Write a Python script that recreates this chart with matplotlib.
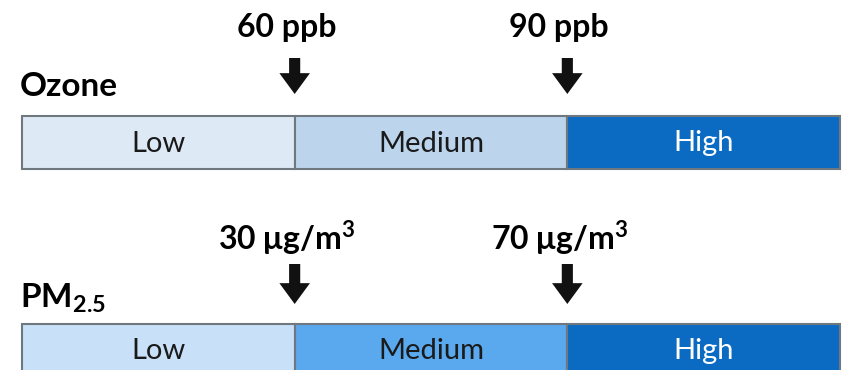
import matplotlib.pyplot as plt

# categories and cut-off values
levels = ["Low", "Medium", "High"]
ozone_cuts = ["60 ppb", "90 ppb"]
pm_cuts = ["30 \u03bcg/m$^{\\mathbf{3}}$", "70 \u03bcg/m$^{\\mathbf{3}}$"]
ozone_colors = ["#dde9f5", "#bcd5ed", "#0b6bc2"]
pm_colors = ["#c8e0f8", "#5aa8ee", "#0b6bc2"]
text_colors = ["#1a1a1a", "#1a1a1a", "#ffffff"]

plt.rcParams['font.family'] = ['Lato', 'DejaVu Sans']
plt.rcParams['mathtext.fontset'] = 'custom'
plt.rcParams['mathtext.rm'] = 'Lato:bold'
plt.rcParams['mathtext.bf'] = 'Lato:bold'

fig = plt.figure(figsize=(8.46, 3.70), dpi=100)
ax = fig.add_axes([0, 0, 1, 1])
unit = 818 / 3  # pixels per segment
ax.set_xlim(-22 / unit, 824 / unit)
ax.set_ylim(370, 0)
ax.axis('off')


def row(y_bar, colors, cuts, name, y_arrow, y_label, y_name):
    idx = list(range(len(levels)))
    ax.barh([y_bar] * len(levels), [1] * len(levels), left=idx, height=53,
            color=colors, edgecolor="#6f777f", linewidth=1.5)
    for i, lab in enumerate(levels):
        ax.text(i + 0.5, y_bar + 1, lab, ha='center', va='center',
                fontsize=21, color=text_colors[i])
    for k, lab in enumerate(cuts):
        b = k + 1
        ax.annotate("", xy=(b, y_arrow[1]), xytext=(b, y_arrow[0]),
                    arrowprops=dict(arrowstyle="simple,head_width=22,head_length=15,tail_width=8",
                                    mutation_scale=1, color="#111111", lw=0,
                                    shrinkA=0, shrinkB=0))
        ax.text(b - 0.03, y_label, lab, ha='center', va='center',
                fontsize=23, fontweight='bold')
    ax.text(20 / unit - 22 / unit, y_name, name, ha='left', va='center',
            fontsize=24, fontweight='bold')


row(142.5, ozone_colors, ozone_cuts, "Ozone", (58, 94), 28, 86)
row(350, pm_colors, pm_cuts, "PM$_{\\mathbf{2.5}}$", (264, 304), 238, 298)

fig.savefig("out.png", dpi=100)
